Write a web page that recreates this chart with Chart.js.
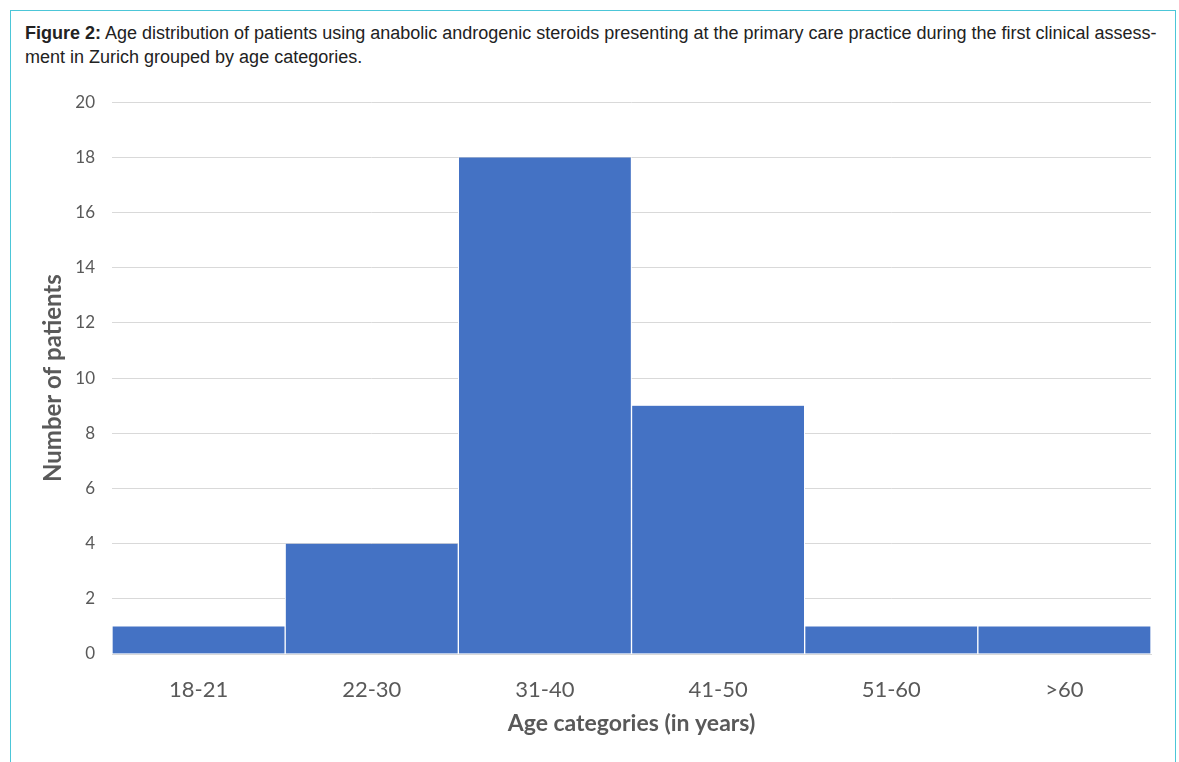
<!DOCTYPE html>
<html>
<head>
<meta charset="utf-8">
<script src="https://cdn.jsdelivr.net/npm/chart.js@4"></script>
<style>
  html, body { margin: 0; padding: 0; background: #fff; }
  body { width: 1179px; height: 762px; position: relative; overflow: hidden; }
  .frame {
    position: absolute; left: 10px; top: 10px; width: 1166px; height: 800px;
    border: 1px solid #4cc6d8; box-sizing: border-box;
  }
  .caption {
    position: absolute; left: 25px; top: 21px;
    font-family: "Liberation Sans", Arial, sans-serif; font-size: 18px;
    line-height: 24px; color: #222; white-space: nowrap;
  }
  .chart-box { position: absolute; left: 20px; top: 75px; width: 1145px; height: 687px; }
</style>
</head>
<body>
<div class="frame"></div>
<div class="caption"><b>Figure 2:</b> Age distribution of patients using anabolic androgenic steroids presenting at the primary care practice during the first clinical assess-<br>ment in Zurich grouped by age categories.</div>
<div class="chart-box"><canvas id="myChart"></canvas></div>
<script>
const ageCategories = ['18-21', '22-30', '31-40', '41-50', '51-60', '>60'];
const patientCounts = [1, 4, 18, 9, 1, 1];
const yTicks = [0, 2, 4, 6, 8, 10, 12, 14, 16, 18, 20];

const ctx = document.getElementById('myChart');

const showChart = () => {
  new Chart(ctx, {
    type: 'bar',
    data: {
      labels: ageCategories,
      datasets: [{
        label: 'Number of patients',
        data: patientCounts,
        backgroundColor: '#4472c4',
        borderColor: '#ffffff',
        borderWidth: { left: 1, right: 1, top: 0, bottom: 0 },
        barPercentage: 1,
        categoryPercentage: 1
      }]
    },
    options: {
      responsive: true,
      maintainAspectRatio: false,
      animation: false,
      layout: { padding: { top: 14, right: 14, bottom: 8, left: 0 } },
      plugins: { legend: { display: false }, tooltip: { enabled: false } },
      scales: {
        x: {
          grid: { display: false },
          border: { display: true, color: '#d9d9d9' },
          ticks: { color: '#595959', padding: 15, font: { family: 'Lato', size: 22 } },
          title: {
            display: true, text: 'Age categories (in years)', color: '#595959',
            padding: 17, font: { family: 'Lato', size: 23, weight: 'bold' }
          },
          afterFit: (scale) => { scale.height = 100; }
        },
        y: {
          min: 0, max: 20,
          afterBuildTicks: (scale) => { scale.ticks = yTicks.map(v => ({ value: v })); },
          grid: { color: '#d9d9d9', drawTicks: false },
          border: { display: false },
          ticks: { color: '#595959', padding: 17, font: { family: 'Lato', size: 17 } },
          title: {
            display: true, text: 'Number of patients', color: '#595959',
            padding: 19, font: { family: 'Lato', size: 24, weight: 'bold' }
          },
          afterFit: (scale) => { scale.width = 92; }
        }
      }
    }
  });
}

window.addEventListener('load', function () {
  showChart();
});
</script>
</body>
</html>
